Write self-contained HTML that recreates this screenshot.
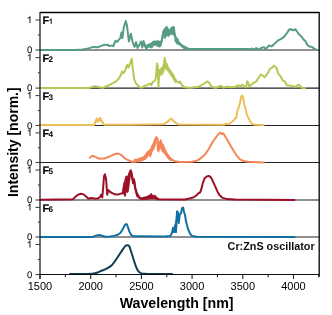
<!DOCTYPE html>
<html><head><meta charset="utf-8"><style>
html,body{margin:0;padding:0;background:#fff;}
body{width:332px;height:315px;overflow:hidden;}
svg{display:block;will-change:transform;}
text{font-family:"Liberation Sans",sans-serif;}
.tl{font-size:9.6px;fill:#111;stroke:#111;stroke-width:0.1px;text-rendering:geometricPrecision;}
.xl{font-size:11px;fill:#000;}
.fl{font-size:10.8px;font-weight:bold;fill:#000;stroke:#000;stroke-width:0.2px;text-rendering:geometricPrecision;}
.sub{font-size:8.2px;font-weight:bold;stroke-width:0;}
.cr{font-size:10.8px;font-weight:bold;fill:#111;}
.ax{font-size:14.2px;font-weight:bold;fill:#000;}
</style></head><body>
<svg width="332" height="315" viewBox="0 0 332 315">
<line x1="40.0" y1="50.0" x2="319.2" y2="50.0" stroke="#222" stroke-width="1.1"/>
<line x1="40.0" y1="88.1" x2="319.2" y2="88.1" stroke="#222" stroke-width="1.1"/>
<line x1="40.0" y1="125.5" x2="319.2" y2="125.5" stroke="#222" stroke-width="1.1"/>
<line x1="40.0" y1="162.5" x2="319.2" y2="162.5" stroke="#222" stroke-width="1.1"/>
<line x1="40.0" y1="200.0" x2="319.2" y2="200.0" stroke="#222" stroke-width="1.1"/>
<line x1="40.0" y1="237.0" x2="319.2" y2="237.0" stroke="#222" stroke-width="1.1"/>
<path d="M40.00 49.90 L75.00 49.90 L82.50 49.50 L88.60 48.40 L93.10 46.90 L97.60 47.20 L100.60 46.10 L102.90 45.40 L104.40 44.60 L105.90 45.10 L107.40 44.60 L109.30 46.10 L111.90 45.40 L113.40 46.10 L115.40 40.90 L117.20 41.80 L118.70 39.90 L120.20 38.40 L121.50 32.50 L122.40 38.10 L123.70 27.60 L125.80 21.00 L126.90 25.20 L128.90 41.50 L130.90 33.70 L132.50 41.50 L134.50 46.90 L136.10 42.10 L137.50 48.10 L139.30 45.10 L141.10 41.50 L142.30 47.50 L143.60 40.90 L145.00 46.30 L146.40 48.80 L148.40 44.70 L151.10 44.10 L153.10 42.70 L154.50 44.70 L157.90 42.00 L159.90 46.10 L161.90 40.00 L163.30 31.90 L165.30 29.20 L167.40 28.50 L169.40 33.20 L171.40 28.50 L173.50 27.10 L174.80 35.90 L176.90 40.70 L178.90 43.40 L180.90 45.40 L183.60 47.50 L186.30 48.10 L188.40 49.00 L200.00 49.00 L247.50 48.90 L250.00 49.30 L252.10 48.60 L254.00 49.60 L256.30 48.10 L258.50 49.60 L260.50 48.40 L262.00 47.60 L264.00 47.10 L265.50 49.40 L269.00 45.40 L271.60 46.40 L274.20 44.10 L277.70 40.60 L281.20 38.90 L283.80 37.10 L286.50 33.70 L289.10 29.60 L290.80 29.30 L293.10 30.20 L295.50 29.30 L297.80 32.80 L299.60 34.90 L301.30 36.30 L303.90 39.80 L305.70 41.50 L307.40 45.00 L310.00 46.80 L311.80 46.80 L314.40 48.90 L316.20 49.70" fill="none" stroke="#559b85" stroke-width="2.0" stroke-linejoin="round" stroke-linecap="round"/>
<path d="M190.00 49.00 L190.50 48.91 L191.00 48.80 L191.50 48.79 L192.00 48.75 L192.50 48.65 L193.00 48.67 L193.50 48.70 L194.00 48.70 L194.50 48.72 L195.00 48.70 L195.50 48.68 L196.00 48.75 L196.50 48.67 L197.00 48.69 L197.50 48.69 L198.00 48.73 L198.50 48.73 L199.00 48.67 L199.50 48.77 L200.00 48.65 L200.50 48.70 L201.00 48.72 L201.50 48.74 L202.00 48.70 L202.50 48.69 L203.00 48.66 L203.50 48.69 L204.00 48.66 L204.50 48.65 L205.00 48.68 L205.50 48.66 L206.00 48.74 L206.50 48.66 L207.00 48.76 L207.50 48.72 L208.00 48.73 L208.50 48.65 L209.00 48.69 L209.50 48.67 L210.00 48.65 L210.50 48.70 L211.00 48.72 L211.50 48.68 L212.00 48.74 L212.50 48.68 L213.00 48.76 L213.50 48.72 L214.00 48.63 L214.50 48.70 L215.00 48.67 L215.50 48.68 L216.00 48.62 L216.50 48.69 L217.00 48.72 L217.50 48.62 L218.00 48.68 L218.50 48.69 L219.00 48.75 L219.50 48.66 L220.00 48.66 L220.50 48.65 L221.00 48.65 L221.50 48.74 L222.00 48.65 L222.50 48.71 L223.00 48.66 L223.50 48.69 L224.00 48.69 L224.50 48.70 L225.00 48.63 L225.50 48.66 L226.00 48.69 L226.50 48.62 L227.00 48.71 L227.50 48.63 L228.00 48.69 L228.50 48.61 L229.00 48.61 L229.50 48.68 L230.00 48.60 L230.50 48.69 L231.00 48.65 L231.50 48.61 L232.00 48.70 L232.50 48.61 L233.00 48.61 L233.50 48.70 L234.00 48.61 L234.50 48.67 L235.00 48.66 L235.50 48.59 L236.00 48.71 L236.50 48.59 L237.00 48.65 L237.50 48.58 L238.00 48.61 L238.50 48.62 L239.00 48.67 L239.50 48.67 L240.00 48.62 L240.50 48.59 L241.00 48.58 L241.50 48.57 L242.00 48.58 L242.50 48.70 L243.00 48.68 L243.50 48.61 L244.00 48.64 L244.50 48.61 L245.00 48.66 L245.50 48.63 L246.00 48.64 L246.50 48.62 L247.00 48.67 L247.50 48.56 L248.00 48.65 L248.50 48.76 L249.00 49.00 L249.50 49.14 L250.00 49.30 L250.00 49.30 L249.50 49.31 L249.00 49.31 L248.50 49.39 L248.00 49.19 L247.50 49.22 L247.00 49.22 L246.50 49.23 L246.00 49.14 L245.50 49.22 L245.00 49.24 L244.50 49.16 L244.00 49.25 L243.50 49.19 L243.00 49.16 L242.50 49.22 L242.00 49.20 L241.50 49.25 L241.00 49.22 L240.50 49.13 L240.00 49.17 L239.50 49.14 L239.00 49.18 L238.50 49.20 L238.00 49.25 L237.50 49.16 L237.00 49.27 L236.50 49.27 L236.00 49.27 L235.50 49.16 L235.00 49.19 L234.50 49.20 L234.00 49.18 L233.50 49.18 L233.00 49.19 L232.50 49.23 L232.00 49.18 L231.50 49.26 L231.00 49.17 L230.50 49.16 L230.00 49.21 L229.50 49.24 L229.00 49.17 L228.50 49.21 L228.00 49.20 L227.50 49.17 L227.00 49.21 L226.50 49.19 L226.00 49.19 L225.50 49.26 L225.00 49.16 L224.50 49.21 L224.00 49.24 L223.50 49.20 L223.00 49.21 L222.50 49.23 L222.00 49.30 L221.50 49.17 L221.00 49.27 L220.50 49.22 L220.00 49.23 L219.50 49.18 L219.00 49.26 L218.50 49.25 L218.00 49.17 L217.50 49.25 L217.00 49.22 L216.50 49.28 L216.00 49.25 L215.50 49.26 L215.00 49.26 L214.50 49.25 L214.00 49.23 L213.50 49.32 L213.00 49.30 L212.50 49.21 L212.00 49.24 L211.50 49.19 L211.00 49.20 L210.50 49.33 L210.00 49.33 L209.50 49.24 L209.00 49.20 L208.50 49.20 L208.00 49.30 L207.50 49.22 L207.00 49.31 L206.50 49.33 L206.00 49.21 L205.50 49.28 L205.00 49.23 L204.50 49.28 L204.00 49.34 L203.50 49.23 L203.00 49.34 L202.50 49.33 L202.00 49.33 L201.50 49.29 L201.00 49.26 L200.50 49.25 L200.00 49.27 L199.50 49.24 L199.00 49.22 L198.50 49.34 L198.00 49.32 L197.50 49.34 L197.00 49.33 L196.50 49.28 L196.00 49.21 L195.50 49.29 L195.00 49.22 L194.50 49.31 L194.00 49.33 L193.50 49.23 L193.00 49.28 L192.50 49.28 L192.00 49.24 L191.50 49.33 L191.00 49.15 L190.50 49.10 L190.00 49.00Z" fill="#559b85" stroke="#559b85" stroke-width="0.8" stroke-linejoin="round"/>
<path d="M145.60 43.90 L146.50 45.50 L147.70 44.80 L149.80 43.90 L151.40 42.70 L153.10 41.10 L154.70 40.70 L156.40 41.10 L157.60 40.20 L159.20 41.10 L160.90 41.10 L162.10 35.70 L163.10 32.80 L163.60 29.20 L164.60 28.50 L166.00 26.40 L167.40 26.40 L168.50 30.20 L170.20 28.80 L171.60 27.10 L173.00 26.00 L174.40 27.10 L175.10 33.40 L176.20 36.90 L178.30 39.00 L178.30 40.50 L176.20 38.30 L174.80 35.50 L172.70 34.80 L170.20 34.40 L168.50 36.90 L166.70 35.50 L165.00 39.00 L163.20 36.20 L162.10 41.50 L160.90 46.40 L159.20 47.20 L157.20 46.40 L155.50 45.20 L153.50 45.60 L152.20 48.10 L150.60 47.70 L148.10 47.20 L146.50 48.80 L145.60 46.00Z" fill="#559b85" stroke="#559b85" stroke-width="0.6" stroke-linejoin="round"/>
<path d="M174.80 36.30 L176.20 37.70 L178.30 40.50 L180.40 42.90 L182.50 45.00 L185.60 46.40 L187.40 47.80 L190.00 48.60 L190.00 49.60 L187.40 49.50 L183.90 48.70 L181.80 46.60 L179.70 44.80 L176.90 44.20 L174.80 41.00Z" fill="#559b85" stroke="#559b85" stroke-width="0.6" stroke-linejoin="round"/>
<path d="M40.00 88.00 L89.00 88.00 L92.00 86.90 L95.00 86.30 L98.00 86.70 L101.00 87.60 L103.00 87.80 L106.00 86.50 L110.00 84.60 L112.40 83.40 L114.80 82.20 L117.20 80.40 L119.60 77.40 L121.40 73.80 L122.00 71.40 L123.30 73.20 L125.10 70.80 L126.30 66.60 L127.50 64.70 L128.30 67.80 L129.30 66.00 L130.50 62.30 L131.70 58.70 L132.90 69.60 L134.10 78.60 L135.90 83.40 L137.70 85.20 L140.10 87.60 L142.50 87.60 L144.90 85.50 L147.30 85.20 L150.00 83.50 L151.20 85.20 L153.00 81.60 L154.80 81.00 L156.00 76.80 L157.00 63.50 L157.80 66.00 L158.40 87.00 L159.40 70.20 L160.80 70.80 L162.00 69.00 L163.50 67.20 L164.70 58.10 L165.70 64.70 L166.90 64.10 L168.10 69.00 L169.30 69.60 L171.10 73.80 L172.90 74.40 L174.70 78.60 L176.50 81.00 L178.90 82.80 L180.10 81.60 L181.60 84.60 L183.70 87.00 L187.30 87.60 L190.50 87.80 L199.00 86.70 L204.20 83.50 L207.40 81.40 L209.50 83.20 L211.60 86.70 L215.80 87.80 L221.00 85.80 L223.30 87.60 L227.00 86.60 L230.00 87.20 L234.60 87.00 L238.30 85.10 L240.00 86.70 L242.10 84.60 L244.00 86.20 L245.90 87.30 L247.40 81.30 L249.60 86.60 L251.90 84.30 L254.20 82.50 L256.40 81.30 L258.70 77.50 L260.90 74.50 L263.20 76.00 L264.80 77.20 L267.90 73.00 L270.00 68.80 L272.10 67.70 L274.20 65.60 L276.40 67.70 L278.50 74.10 L280.60 76.20 L282.70 80.40 L284.80 81.40 L286.90 85.20 L291.10 85.70 L294.30 86.70 L296.50 86.20 L298.90 84.60 L301.00 87.30 L303.80 88.20 L305.00 88.20" fill="none" stroke="#b8c655" stroke-width="2.0" stroke-linejoin="round" stroke-linecap="round"/>
<path d="M215.00 87.59 L215.50 87.64 L216.00 87.55 L216.50 87.13 L217.00 87.08 L217.50 86.86 L218.00 86.66 L218.50 86.43 L219.00 86.30 L219.50 86.12 L220.00 85.83 L220.50 85.74 L221.00 85.50 L221.50 85.83 L222.00 86.21 L222.50 86.66 L223.00 87.05 L223.50 87.24 L224.00 87.10 L224.50 86.95 L225.00 86.89 L225.50 86.70 L226.00 86.48 L226.50 86.35 L227.00 86.32 L227.50 86.44 L228.00 86.45 L228.50 86.53 L229.00 86.64 L229.50 86.84 L230.00 86.96 L230.50 86.81 L231.00 86.90 L231.50 86.75 L232.00 86.87 L232.50 86.83 L233.00 86.72 L233.50 86.66 L234.00 86.66 L234.50 86.64 L235.00 86.44 L235.50 86.18 L236.00 86.03 L236.50 85.69 L237.00 85.49 L237.50 85.23 L238.00 84.89 L238.50 84.99 L239.00 85.46 L239.50 85.98 L240.00 86.30 L240.50 85.84 L241.00 85.35 L241.50 84.85 L242.00 84.38 L242.50 84.55 L243.00 85.10 L243.50 85.39 L244.00 85.89 L244.50 86.22 L245.00 86.51 L245.50 86.78 L246.00 86.55 L246.50 84.61 L247.00 82.59 L247.50 81.21 L248.00 82.47 L248.50 83.63 L249.00 84.98 L249.50 86.26 L250.00 86.20 L250.00 86.20 L249.50 86.48 L249.00 85.35 L248.50 84.25 L248.00 82.99 L247.50 81.82 L247.00 83.28 L246.50 85.25 L246.00 87.29 L245.50 87.35 L245.00 87.11 L244.50 86.77 L244.00 86.56 L243.50 86.10 L243.00 85.72 L242.50 85.20 L242.00 85.04 L241.50 85.52 L241.00 86.06 L240.50 86.47 L240.00 87.01 L239.50 86.55 L239.00 86.07 L238.50 85.59 L238.00 85.56 L237.50 85.85 L237.00 86.04 L236.50 86.40 L236.00 86.57 L235.50 86.93 L235.00 87.05 L234.50 87.33 L234.00 87.27 L233.50 87.38 L233.00 87.44 L232.50 87.47 L232.00 87.49 L231.50 87.40 L231.00 87.41 L230.50 87.43 L230.00 87.46 L229.50 87.43 L229.00 87.33 L228.50 87.25 L228.00 87.18 L227.50 87.07 L227.00 86.91 L226.50 87.10 L226.00 87.17 L225.50 87.39 L225.00 87.45 L224.50 87.63 L224.00 87.69 L223.50 87.90 L223.00 87.72 L222.50 87.27 L222.00 86.92 L221.50 86.49 L221.00 86.14 L220.50 86.26 L220.00 86.49 L219.50 86.71 L219.00 86.86 L218.50 87.06 L218.00 87.30 L217.50 87.44 L217.00 87.66 L216.50 87.91 L216.00 87.89 L215.50 87.81 L215.00 87.59Z" fill="#b8c655" stroke="#b8c655" stroke-width="0.8" stroke-linejoin="round"/>
<path d="M159.30 69.50 L161.00 68.00 L163.00 66.00 L164.30 60.00 L164.80 57.20 L165.50 61.00 L167.00 64.00 L168.00 67.00 L170.00 69.00 L172.00 72.00 L174.00 76.00 L176.00 80.00 L176.00 83.50 L174.00 81.00 L172.00 77.50 L170.00 74.50 L168.00 71.50 L167.00 70.50 L165.50 68.00 L164.50 70.00 L163.00 74.00 L161.00 75.60 L159.30 76.00Z" fill="#b8c655" stroke="#b8c655" stroke-width="0.6" stroke-linejoin="round"/>
<path d="M40.00 125.05 L94.00 125.05 L95.50 121.15 L96.70 118.65 L98.10 120.95 L99.90 117.75 L101.70 120.95 L104.00 124.65 L118.00 124.75 L120.00 124.65 L127.00 124.65 L129.00 124.75 L163.80 124.35 L167.00 122.15 L171.10 118.45 L174.00 121.65 L178.50 124.55 L224.00 124.75 L226.40 123.65 L228.70 124.25 L231.10 122.55 L233.40 120.75 L235.20 118.35 L236.40 117.75 L237.50 110.15 L238.70 107.75 L239.90 103.05 L241.10 97.25 L242.20 95.45 L243.40 98.35 L244.00 104.25 L245.20 107.25 L246.90 114.85 L248.70 118.35 L251.10 123.05 L253.40 124.45 L256.00 124.75 L263.70 125.05" fill="none" stroke="#eebf58" stroke-width="2.0" stroke-linejoin="round" stroke-linecap="round"/>
<path d="M95.30 122.30 L96.70 118.30 L98.10 119.80 L99.90 117.30 L101.70 119.80 L103.20 122.80 L103.20 124.30 L101.70 122.60 L99.90 120.80 L98.10 122.60 L96.70 121.50 L95.30 124.30Z" fill="#eebf58" stroke="#eebf58" stroke-width="0.6" stroke-linejoin="round"/>
<path d="M89.80 157.80 L91.00 156.60 L92.50 155.80 L95.00 156.60 L97.50 158.00 L100.00 158.80 L104.00 158.60 L109.00 156.80 L113.00 154.80 L116.00 153.80 L118.50 153.70 L121.00 154.80 L124.20 157.80 L127.00 159.60 L130.20 161.00 L132.00 161.80 L134.20 161.80 L137.40 160.70 L140.00 159.10 L141.80 158.20 L143.00 159.10 L145.40 155.50 L147.80 152.50 L150.20 150.10 L151.10 154.20 L152.00 147.10 L153.90 143.50 L155.10 139.80 L156.30 137.40 L157.50 138.60 L158.30 149.90 L159.30 143.50 L160.70 140.40 L161.70 148.70 L162.90 144.70 L164.70 150.10 L166.50 153.70 L168.90 156.70 L171.30 159.10 L174.90 161.30 L180.00 162.10 L192.00 161.80 L197.20 160.60 L201.60 157.60 L205.10 154.40 L208.60 149.20 L212.10 143.00 L215.60 137.80 L219.10 133.40 L220.80 132.60 L222.00 134.10 L223.40 133.40 L226.10 137.80 L229.60 143.90 L233.10 150.00 L236.50 155.30 L240.00 159.30 L243.50 161.00 L247.90 161.80 L263.70 162.40" fill="none" stroke="#f5865a" stroke-width="2.0" stroke-linejoin="round" stroke-linecap="round"/>
<path d="M134.30 159.00 L136.20 159.00 L139.20 158.30 L142.30 157.10 L145.00 155.20 L147.20 151.40 L147.20 156.50 L146.90 157.10 L143.80 160.20 L141.50 161.30 L137.00 162.10 L134.30 162.30Z" fill="#f5865a" stroke="#f5865a" stroke-width="0.6" stroke-linejoin="round"/>
<path d="M144.00 157.40 L148.10 152.30 L151.10 147.20 L153.60 142.10 L155.70 137.10 L156.70 136.60 L157.70 138.10 L157.40 151.30 L156.70 140.10 L155.70 144.20 L154.10 149.20 L151.60 152.30 L150.60 157.40 L149.10 155.30 L145.00 159.90 L144.00 159.90Z" fill="#f5865a" stroke="#f5865a" stroke-width="0.6" stroke-linejoin="round"/>
<path d="M158.20 151.30 L159.50 143.00 L160.70 140.10 L163.30 145.20 L165.80 150.30 L168.30 155.30 L171.40 159.40 L171.40 161.00 L170.40 160.90 L167.30 157.90 L164.80 154.30 L162.30 151.80 L160.20 147.20 L158.70 152.50Z" fill="#f5865a" stroke="#f5865a" stroke-width="0.6" stroke-linejoin="round"/>
<path d="M40.00 199.80 L72.80 199.20 L75.20 197.10 L77.70 194.90 L80.70 193.70 L83.70 194.40 L86.10 196.50 L88.50 198.70 L90.90 198.00 L93.30 198.30 L95.70 198.70 L98.10 198.30 L99.90 197.10 L101.10 194.70 L102.30 197.50 L103.20 187.20 L103.80 179.20 L104.10 175.80 L105.00 174.40 L106.10 179.20 L107.20 194.70 L108.20 190.00 L110.20 192.00 L112.90 193.40 L115.60 194.50 L118.30 194.50 L121.70 193.40 L123.80 192.00 L124.40 183.20 L125.00 195.60 L126.50 177.10 L127.50 191.40 L128.50 176.40 L129.90 171.70 L130.80 171.00 L131.90 175.80 L133.00 183.20 L133.90 179.20 L135.30 188.60 L137.30 196.10 L140.00 198.10 L143.00 198.80 L146.90 198.10 L151.10 194.80 L153.20 198.10 L155.30 197.50 L158.50 199.20 L180.00 199.50 L185.00 199.40 L189.50 198.50 L193.30 197.50 L196.30 195.50 L198.30 193.40 L200.10 192.50 L201.30 189.20 L202.80 183.20 L204.60 178.30 L206.80 176.40 L208.80 175.90 L210.90 177.40 L212.90 181.40 L215.10 186.20 L217.40 191.40 L219.60 195.20 L222.70 197.90 L227.20 199.10 L235.00 199.40 L294.40 199.90" fill="none" stroke="#9e1029" stroke-width="2.0" stroke-linejoin="round" stroke-linecap="round"/>
<path d="M139.40 197.30 L141.90 197.70 L144.40 196.90 L147.80 196.00 L150.30 194.80 L151.20 193.10 L152.40 195.20 L155.40 195.20 L157.10 197.70 L158.80 198.40 L158.80 199.80 L157.10 199.80 L154.60 199.00 L151.20 199.00 L147.00 199.40 L142.70 199.80 L139.40 199.00Z" fill="#9e1029" stroke="#9e1029" stroke-width="0.6" stroke-linejoin="round"/>
<path d="M122.30 190.30 L123.90 183.30 L125.60 176.80 L126.60 175.70 L128.30 176.80 L129.90 170.30 L131.00 169.20 L132.10 172.50 L133.10 177.90 L134.80 180.10 L135.80 187.60 L137.50 193.00 L139.60 196.30 L139.60 198.40 L136.90 196.30 L135.30 190.90 L133.70 183.30 L132.10 179.00 L131.00 174.10 L130.10 179.00 L128.80 188.70 L127.70 192.50 L126.10 192.00 L124.50 193.00 L122.90 194.60Z" fill="#9e1029" stroke="#9e1029" stroke-width="0.6" stroke-linejoin="round"/>
<path d="M40.00 236.90 L92.70 236.90 L96.00 235.60 L99.00 234.90 L102.00 235.60 L105.40 236.70 L110.00 236.40 L114.30 235.90 L117.60 234.80 L120.30 233.00 L122.40 229.90 L124.00 226.70 L125.20 224.60 L126.20 224.10 L127.10 224.70 L128.10 227.80 L129.40 231.60 L131.10 234.80 L133.20 236.20 L138.10 236.20 L165.00 236.60 L170.10 236.10 L171.90 233.30 L173.00 228.10 L173.90 232.10 L175.30 225.30 L175.90 232.10 L177.00 211.50 L177.80 211.90 L178.70 223.00 L179.90 213.80 L181.00 213.30 L182.10 208.10 L183.10 207.50 L183.90 211.50 L185.00 215.00 L186.10 221.80 L187.90 228.70 L190.10 233.80 L192.40 236.10 L196.90 236.80 L294.40 236.90" fill="none" stroke="#1170a3" stroke-width="2.0" stroke-linejoin="round" stroke-linecap="round"/>
<path d="M172.50 229.00 L173.00 226.90 L174.10 227.40 L175.20 223.60 L176.30 218.00 L176.90 212.00 L176.90 223.00 L176.30 232.40 L174.70 232.40 L173.00 231.30 L172.50 233.00Z" fill="#1170a3" stroke="#1170a3" stroke-width="0.6" stroke-linejoin="round"/>
<path d="M70.00 274.10 C73.00 274.07 83.80 274.05 88.00 273.90 C92.20 273.75 93.08 273.67 95.20 273.20 C97.32 272.73 98.88 271.82 100.70 271.10 C102.52 270.38 104.30 269.83 106.10 268.90 C107.90 267.97 109.70 267.27 111.50 265.50 C113.30 263.73 115.10 260.87 116.90 258.30 C118.70 255.73 120.92 252.13 122.30 250.10 C123.68 248.07 124.40 246.92 125.20 246.10 C126.00 245.28 126.47 245.23 127.10 245.20 C127.73 245.17 128.43 245.15 129.00 245.90 C129.57 246.65 129.80 247.65 130.50 249.70 C131.20 251.75 132.30 255.43 133.20 258.20 C134.10 260.97 135.00 264.05 135.90 266.30 C136.80 268.55 137.55 270.48 138.60 271.70 C139.65 272.92 140.63 273.23 142.20 273.60 C143.77 273.97 143.02 273.82 148.00 273.90 C152.98 273.98 168.08 274.07 172.10 274.10" fill="none" stroke="#0f3c52" stroke-width="2.0" stroke-linejoin="round" stroke-linecap="round"/>
<line x1="40.0" y1="12.5" x2="319.2" y2="12.5" stroke="#000" stroke-width="1.3"/>
<line x1="319.2" y1="11.9" x2="319.2" y2="276.8" stroke="#000" stroke-width="1.3"/>
<line x1="39.5" y1="274.5" x2="319.2" y2="274.5" stroke="#111" stroke-width="1.2"/>
<line x1="40.0" y1="11.9" x2="40.0" y2="278.8" stroke="#232323" stroke-width="1.3"/>
<line x1="35.5" y1="20.00" x2="40.0" y2="20.00" stroke="#444" stroke-width="1.1"/>
<line x1="35.5" y1="50.00" x2="40.0" y2="50.00" stroke="#444" stroke-width="1.1"/>
<line x1="37.8" y1="35.00" x2="40.0" y2="35.00" stroke="#444" stroke-width="1.1"/>
<path transform="translate(26.872,22.90) scale(0.004590,-0.004590)" d="M763 0L583 0L583 1147Q518 1085 412 1023Q306 961 222 930L222 1104Q373 1175 486 1276Q599 1377 646 1472L763 1472Z" fill="#111" stroke="#111" stroke-width="25"/>
<text x="32.4" y="53.30" text-anchor="end" class="tl">0</text>
<line x1="35.5" y1="57.62" x2="40.0" y2="57.62" stroke="#444" stroke-width="1.1"/>
<line x1="35.5" y1="88.10" x2="40.0" y2="88.10" stroke="#444" stroke-width="1.1"/>
<line x1="37.8" y1="72.86" x2="40.0" y2="72.86" stroke="#444" stroke-width="1.1"/>
<path transform="translate(26.872,60.52) scale(0.004590,-0.004590)" d="M763 0L583 0L583 1147Q518 1085 412 1023Q306 961 222 930L222 1104Q373 1175 486 1276Q599 1377 646 1472L763 1472Z" fill="#111" stroke="#111" stroke-width="25"/>
<text x="32.4" y="91.40" text-anchor="end" class="tl">0</text>
<line x1="35.5" y1="95.58" x2="40.0" y2="95.58" stroke="#444" stroke-width="1.1"/>
<line x1="35.5" y1="125.50" x2="40.0" y2="125.50" stroke="#444" stroke-width="1.1"/>
<line x1="37.8" y1="110.54" x2="40.0" y2="110.54" stroke="#444" stroke-width="1.1"/>
<path transform="translate(26.872,98.48) scale(0.004590,-0.004590)" d="M763 0L583 0L583 1147Q518 1085 412 1023Q306 961 222 930L222 1104Q373 1175 486 1276Q599 1377 646 1472L763 1472Z" fill="#111" stroke="#111" stroke-width="25"/>
<text x="32.4" y="128.80" text-anchor="end" class="tl">0</text>
<line x1="35.5" y1="132.90" x2="40.0" y2="132.90" stroke="#444" stroke-width="1.1"/>
<line x1="35.5" y1="162.50" x2="40.0" y2="162.50" stroke="#444" stroke-width="1.1"/>
<line x1="37.8" y1="147.70" x2="40.0" y2="147.70" stroke="#444" stroke-width="1.1"/>
<path transform="translate(26.872,135.80) scale(0.004590,-0.004590)" d="M763 0L583 0L583 1147Q518 1085 412 1023Q306 961 222 930L222 1104Q373 1175 486 1276Q599 1377 646 1472L763 1472Z" fill="#111" stroke="#111" stroke-width="25"/>
<text x="32.4" y="165.80" text-anchor="end" class="tl">0</text>
<line x1="35.5" y1="170.00" x2="40.0" y2="170.00" stroke="#444" stroke-width="1.1"/>
<line x1="35.5" y1="200.00" x2="40.0" y2="200.00" stroke="#444" stroke-width="1.1"/>
<line x1="37.8" y1="185.00" x2="40.0" y2="185.00" stroke="#444" stroke-width="1.1"/>
<path transform="translate(26.872,172.90) scale(0.004590,-0.004590)" d="M763 0L583 0L583 1147Q518 1085 412 1023Q306 961 222 930L222 1104Q373 1175 486 1276Q599 1377 646 1472L763 1472Z" fill="#111" stroke="#111" stroke-width="25"/>
<text x="32.4" y="203.30" text-anchor="end" class="tl">0</text>
<line x1="35.5" y1="207.40" x2="40.0" y2="207.40" stroke="#444" stroke-width="1.1"/>
<line x1="35.5" y1="237.00" x2="40.0" y2="237.00" stroke="#444" stroke-width="1.1"/>
<line x1="37.8" y1="222.20" x2="40.0" y2="222.20" stroke="#444" stroke-width="1.1"/>
<path transform="translate(26.872,210.30) scale(0.004590,-0.004590)" d="M763 0L583 0L583 1147Q518 1085 412 1023Q306 961 222 930L222 1104Q373 1175 486 1276Q599 1377 646 1472L763 1472Z" fill="#111" stroke="#111" stroke-width="25"/>
<text x="32.4" y="240.30" text-anchor="end" class="tl">0</text>
<line x1="35.5" y1="244.50" x2="40.0" y2="244.50" stroke="#444" stroke-width="1.1"/>
<line x1="35.5" y1="274.50" x2="40.0" y2="274.50" stroke="#444" stroke-width="1.1"/>
<line x1="37.8" y1="259.50" x2="40.0" y2="259.50" stroke="#444" stroke-width="1.1"/>
<path transform="translate(26.872,247.40) scale(0.004590,-0.004590)" d="M763 0L583 0L583 1147Q518 1085 412 1023Q306 961 222 930L222 1104Q373 1175 486 1276Q599 1377 646 1472L763 1472Z" fill="#111" stroke="#111" stroke-width="25"/>
<text x="32.4" y="277.80" text-anchor="end" class="tl">0</text>
<line x1="40.00" y1="274.5" x2="40.00" y2="278.9" stroke="#222" stroke-width="1.1"/>
<text x="40.00" y="290.3" text-anchor="middle" class="xl">1500</text>
<line x1="90.70" y1="274.5" x2="90.70" y2="278.9" stroke="#222" stroke-width="1.1"/>
<text x="90.70" y="290.3" text-anchor="middle" class="xl">2000</text>
<line x1="141.40" y1="274.5" x2="141.40" y2="278.9" stroke="#222" stroke-width="1.1"/>
<text x="141.40" y="290.3" text-anchor="middle" class="xl">2500</text>
<line x1="192.10" y1="274.5" x2="192.10" y2="278.9" stroke="#222" stroke-width="1.1"/>
<text x="192.10" y="290.3" text-anchor="middle" class="xl">3000</text>
<line x1="242.80" y1="274.5" x2="242.80" y2="278.9" stroke="#222" stroke-width="1.1"/>
<text x="242.80" y="290.3" text-anchor="middle" class="xl">3500</text>
<line x1="293.50" y1="274.5" x2="293.50" y2="278.9" stroke="#222" stroke-width="1.1"/>
<text x="293.50" y="290.3" text-anchor="middle" class="xl">4000</text>
<line x1="65.35" y1="274.5" x2="65.35" y2="277.3" stroke="#222" stroke-width="1.1"/>
<line x1="116.05" y1="274.5" x2="116.05" y2="277.3" stroke="#222" stroke-width="1.1"/>
<line x1="166.75" y1="274.5" x2="166.75" y2="277.3" stroke="#222" stroke-width="1.1"/>
<line x1="217.45" y1="274.5" x2="217.45" y2="277.3" stroke="#222" stroke-width="1.1"/>
<line x1="268.15" y1="274.5" x2="268.15" y2="277.3" stroke="#222" stroke-width="1.1"/>
<line x1="318.85" y1="274.5" x2="318.85" y2="277.3" stroke="#222" stroke-width="1.1"/>
<text x="42.6" y="23.80" class="fl">F</text>
<path transform="translate(48.8,23.80) scale(0.003613,-0.003613)" d="M810 0H529V1059Q375 915 166 846V1101Q276 1137 405 1238Q534 1339 582 1466H810Z" fill="#111"/>
<text x="42.6" y="61.90" class="fl">F<tspan class="sub" dx="-0.6">2</tspan></text>
<text x="42.6" y="100.00" class="fl">F<tspan class="sub" dx="-0.6">3</tspan></text>
<text x="42.6" y="137.40" class="fl">F<tspan class="sub" dx="-0.6">4</tspan></text>
<text x="42.6" y="174.40" class="fl">F<tspan class="sub" dx="-0.6">5</tspan></text>
<text x="42.6" y="211.90" class="fl">F<tspan class="sub" dx="-0.6">6</tspan></text>
<text x="314.6" y="249.9" text-anchor="end" class="cr">Cr:ZnS oscillator</text>
<text x="176.6" y="308.4" text-anchor="middle" class="ax">Wavelength [nm]</text>
<text transform="translate(17.8,142.2) rotate(-90)" text-anchor="middle" class="ax" style="font-size:14px">Intensity [norm.]</text>
</svg>
</body></html>
